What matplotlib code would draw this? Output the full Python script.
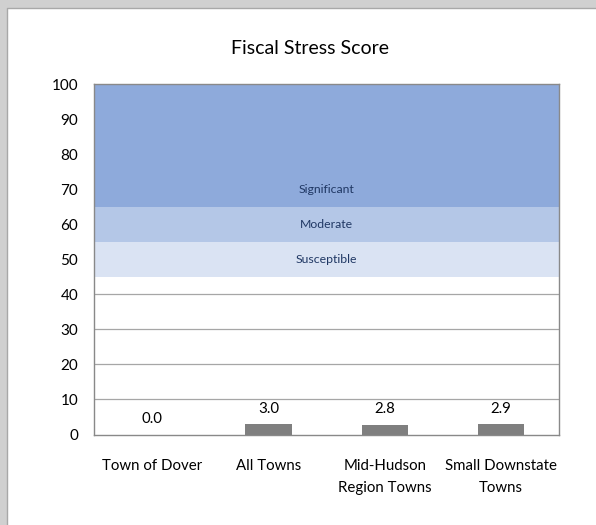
import matplotlib
matplotlib.use("Agg")
import matplotlib.pyplot as plt
from matplotlib.patches import Rectangle
from matplotlib.lines import Line2D

plt.rcParams['font.family'] = ['Lato', 'DejaVu Sans']

categories = ["Town of Dover", "All Towns", "Mid-Hudson\nRegion Towns", "Small Downstate\nTowns"]
values = [0.0, 3.0, 2.8, 2.9]
band_names = ["Susceptible", "Moderate", "Significant"]
band_low = [45, 55, 65]
band_high = [55, 65, 100]
band_label_y = [50, 60, 70]
band_colors = ["#dae3f3", "#b4c7e7", "#8eaadb"]
yticks = [0, 10, 20, 30, 40, 50, 60, 70, 80, 90, 100]

W, H = 596, 525
fig = plt.figure(figsize=(W / 100, H / 100), dpi=100)
fig.patch.set_facecolor("#d0d0d0")
# white panel
fig.patches.append(Rectangle((8 / W, 0), 1, 1 - 8 / H, transform=fig.transFigure,
                             facecolor="white", edgecolor="none", zorder=-10))
fig.lines.append(Line2D([7.5 / W, 7.5 / W, 1], [0, 1 - 7.5 / H, 1 - 7.5 / H],
                        transform=fig.transFigure, color="#a8a8a8", linewidth=1.0, zorder=-9))

left, right = 94.3 / W, 559.3 / W
bottom, top = 1 - 434.5 / H, 1 - 84 / H
ax = fig.add_axes([left, bottom, right - left, top - bottom])
ax.set_zorder(1)
ax.set_facecolor("white")

n = len(categories)
ax.set_xlim(-0.5, n - 0.5)
ax.set_ylim(0, 100)

for lo, hi, c, name, ly in zip(band_low, band_high, band_colors, band_names, band_label_y):
    ax.axhspan(lo, hi, facecolor=c, edgecolor="none", zorder=1)
    ax.text((n - 1) / 2, ly, name, ha="center", va="center", fontsize=8.8,
            color="#203864", zorder=3)

for yv in yticks[1:]:
    ax.axhline(yv, color="#a6a6a6", linewidth=0.9, zorder=0.5)

x = list(range(n))
ax.bar(x, values, width=0.4, color="#7f7f7f", zorder=2)
for xi, v in zip(x, values):
    ax.annotate(f"{v:.1f}", (xi, v), xytext=(0, 6), textcoords="offset points",
                ha="center", va="bottom", fontsize=10.8, color="#000000")

ax.set_yticks(yticks)
ax.set_xticks(x)
ax.set_xticklabels(categories, fontsize=10.8, linespacing=1.7)
ax.tick_params(axis="y", length=0, pad=11.5, labelsize=11)
ax.tick_params(axis="x", length=0, pad=17.5)
for lbl in ax.get_yticklabels():
    lbl.set_horizontalalignment("right")
for s in ax.spines.values():
    s.set_color("#898989")
    s.set_linewidth(1.0)
    s.set_zorder(4)

fig.text(310 / W, 1 - 48 / H, "Fiscal Stress Score", ha="center", va="center", fontsize=14)

fig.savefig("out.png", dpi=100, facecolor=fig.get_facecolor())
